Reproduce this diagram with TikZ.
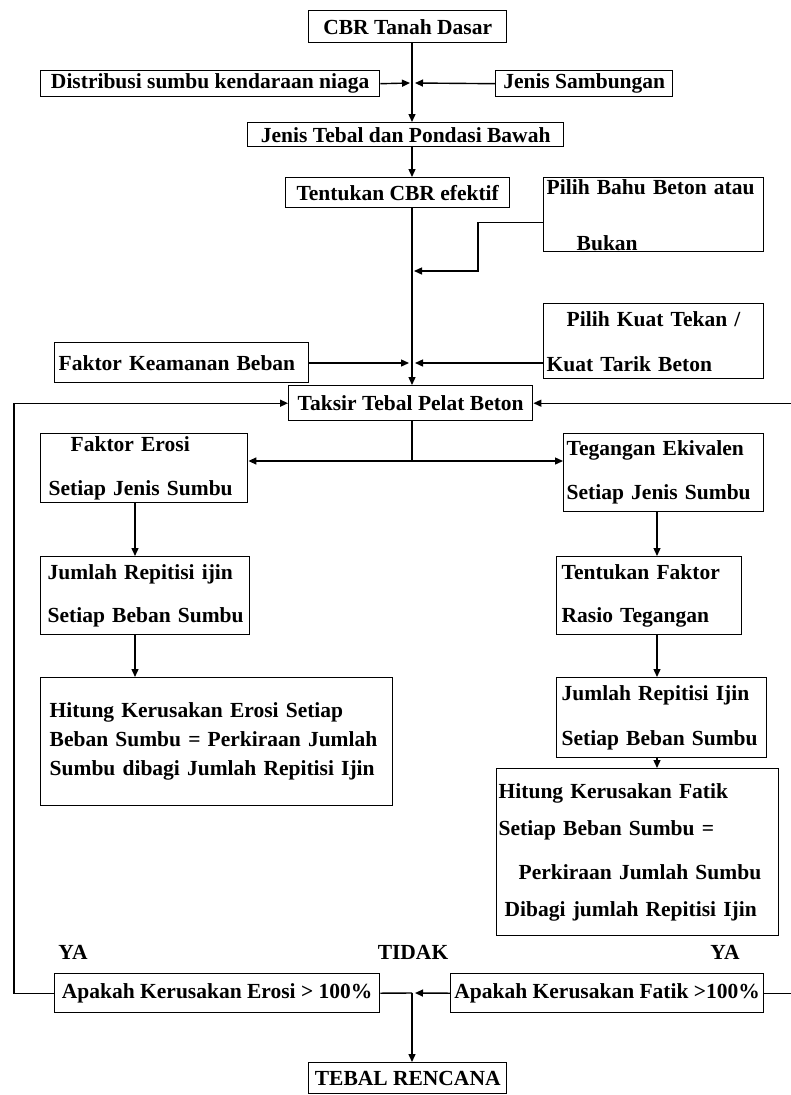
\documentclass[tikz,border=0pt]{standalone}
\usepackage{fontspec}
\setmainfont{Liberation Serif}
\usepackage{tikz}
\usetikzlibrary{arrows.meta}
\usetikzlibrary{positioning}
\tikzstyle{kotak}=[draw,line width=1.4pt,anchor=north west,inner xsep=3pt,inner ysep=0pt,align=left]
\tikzstyle{panah}=[-{Triangle[length=8pt,width=7pt]}]

\begin{document}
\begin{tikzpicture}[
  x=1pt, y=-1pt,
  line width=1.4pt,
  font=\bfseries\fontsize{21.5}{24}\selectfont,
  label/.style={inner sep=0pt},
]
\useasboundingbox (0,0) rectangle (790,1095);
  % kolom garis
  \coordinate (tengah) at (412,0);
  \coordinate (kiri) at (135,0);
  \coordinate (kanan) at (657,0);
  \coordinate (balikkiri) at (14,0);
  \coordinate (balikkanan) at (798,0);
  % kotak atas
  \node[kotak, minimum width=198, minimum height=32] (cbr) at (308,10) {CBR Tanah Dasar};
  \node[kotak, minimum width=339, minimum height=26] (distribusi) at (40,70) {Distribusi sumbu kendaraan niaga};
  \node[kotak, minimum width=177, minimum height=26] (sambungan) at (495,70) {Jenis Sambungan};
  \node[kotak, minimum width=316, minimum height=24] (tebal) at (247,122) {Jenis Tebal dan Pondasi Bawah};
  \node[kotak, minimum width=224, minimum height=30] (cbref) at (285,177) {Tentukan CBR efektif};
  \node[kotak, minimum width=220, minimum height=74, text width=214] (bahu) at (543,177)
    {Pilih Bahu Beton atau\\[32pt]\hspace*{30pt}Bukan};
  \node[kotak, minimum width=220, minimum height=75, text width=214] (kuat) at (543,303)
    {\hspace*{20pt}Pilih Kuat Tekan /\\[21pt]Kuat Tarik Beton};
  \node[kotak, minimum width=254, minimum height=40, text width=246, inner xsep=4pt] (keamanan) at (54,342) {Faktor Keamanan Beban};
  \node[kotak, minimum width=244, minimum height=35] (taksir) at (288,385) {Taksir Tebal Pelat Beton};
  % cabang kiri
  \node[kotak, minimum width=207, minimum height=69, text width=199, inner xsep=4pt] (erosi) at (40,433)
    {\hspace*{26pt}Faktor Erosi\\[20pt]\hspace*{4pt}Setiap Jenis Sumbu};
  \node[kotak, minimum width=209, minimum height=78, text width=201, inner xsep=4pt] (repijin) at (40,556)
    {\hspace*{3pt}Jumlah Repitisi ijin\\[19pt]\hspace*{3pt}Setiap Beban Sumbu};
  \node[kotak, minimum width=352, minimum height=128, text width=334, inner xsep=9pt] (hiterosi) at (40,677)
    {Hitung Kerusakan Erosi Setiap\\[5pt]Beban Sumbu = Perkiraan Jumlah\\[5pt]Sumbu dibagi Jumlah Repitisi Ijin};
  % cabang kanan
  \node[kotak, minimum width=200, minimum height=78, text width=194] (tegangan) at (563,433)
    {Tegangan Ekivalen\\[20pt]Setiap Jenis Sumbu};
  \node[kotak, minimum width=185, minimum height=78, text width=175, inner xsep=5pt] (rasio) at (556,556)
    {Tentukan Faktor\\[19pt]Rasio Tegangan};
  \node[kotak, minimum width=210, minimum height=80, text width=200, inner xsep=5pt] (repijin2) at (556,677)
    {Jumlah Repitisi Ijin\\[21pt]Setiap Beban Sumbu};
  \node[kotak, minimum width=282, minimum height=167, text width=278, inner xsep=2pt] (hitfatik) at (496,768)
    {Hitung Kerusakan Fatik\\[13pt]Setiap Beban Sumbu =\\[20pt]\hspace*{20pt}Perkiraan Jumlah Sumbu\\[13pt]\hspace*{6pt}Dibagi jumlah Repitisi Ijin};
  % keputusan
  \node[kotak, minimum width=325, minimum height=39] (cekerosi) at (54,973) {Apakah Kerusakan Erosi > 100\%};
  \node[kotak, minimum width=313, minimum height=39, inner xsep=1pt] (cekfatik) at (450,973) {Apakah Kerusakan Fatik >100\%};
  \node[kotak, minimum width=198, minimum height=31] (rencana) at (308,1062) {TEBAL RENCANA};
  \node[label] (ya1) at (73,952) {YA};
  \node[label] (tidak) at (413,952) {TIDAK};
  \node[label] (ya2) at (725,952) {YA};
  % titik temu
  \coordinate (j1) at (412,83);
  \coordinate (j2) at (412,271);
  \coordinate (j3) at (412,363);
  \coordinate (j4) at (412,461);
  \coordinate (j5) at (412,993);
  % garis
  \draw[panah] (cbr.south -| tengah) -- (tebal.north -| tengah);
  \draw[panah] (distribusi.east) -- ([xshift=-2pt]j1);
  \draw[panah] (sambungan.west) -- ([xshift=3pt]j1);
  \draw[panah] (tebal.south -| tengah) -- (cbref.north -| tengah);
  \draw[panah] (cbref.south -| tengah) -- (taksir.north -| tengah);
  \draw[panah] ([yshift=-8pt]bahu.west) -| ([xshift=66pt]j2) -- ([xshift=2pt]j2);
  \draw[panah] (keamanan.east |- j3) -- ([xshift=-3pt]j3);
  \draw[panah] (kuat.west |- j3) -- ([xshift=3pt]j3);
  \draw (taksir.south -| tengah) -- (j4);
  \draw[panah] (j4) -- (erosi.east |- j4);
  \draw[panah] (j4) -- (tegangan.west |- j4);
  \draw[panah] (erosi.south -| kiri) -- (repijin.north -| kiri);
  \draw[panah] (repijin.south -| kiri) -- (hiterosi.north -| kiri);
  \draw[panah] (tegangan.south -| kanan) -- (rasio.north -| kanan);
  \draw[panah] (rasio.south -| kanan) -- (repijin2.north -| kanan);
  \draw[panah] (repijin2.south -| kanan) -- (hitfatik.north -| kanan);
  \draw (cekerosi.east) -- (j5);
  \draw[panah] (cekfatik.west) -- ([xshift=3pt]j5);
  \draw[panah] (j5) -- (rencana.north -| j5);
  \draw[panah] (cekerosi.west) -| (balikkiri |- taksir.west) -- (taksir.west);
  \draw[panah] (cekfatik.east) -| (balikkanan |- taksir.east) -- (taksir.east);
\end{tikzpicture}
\end{document}
